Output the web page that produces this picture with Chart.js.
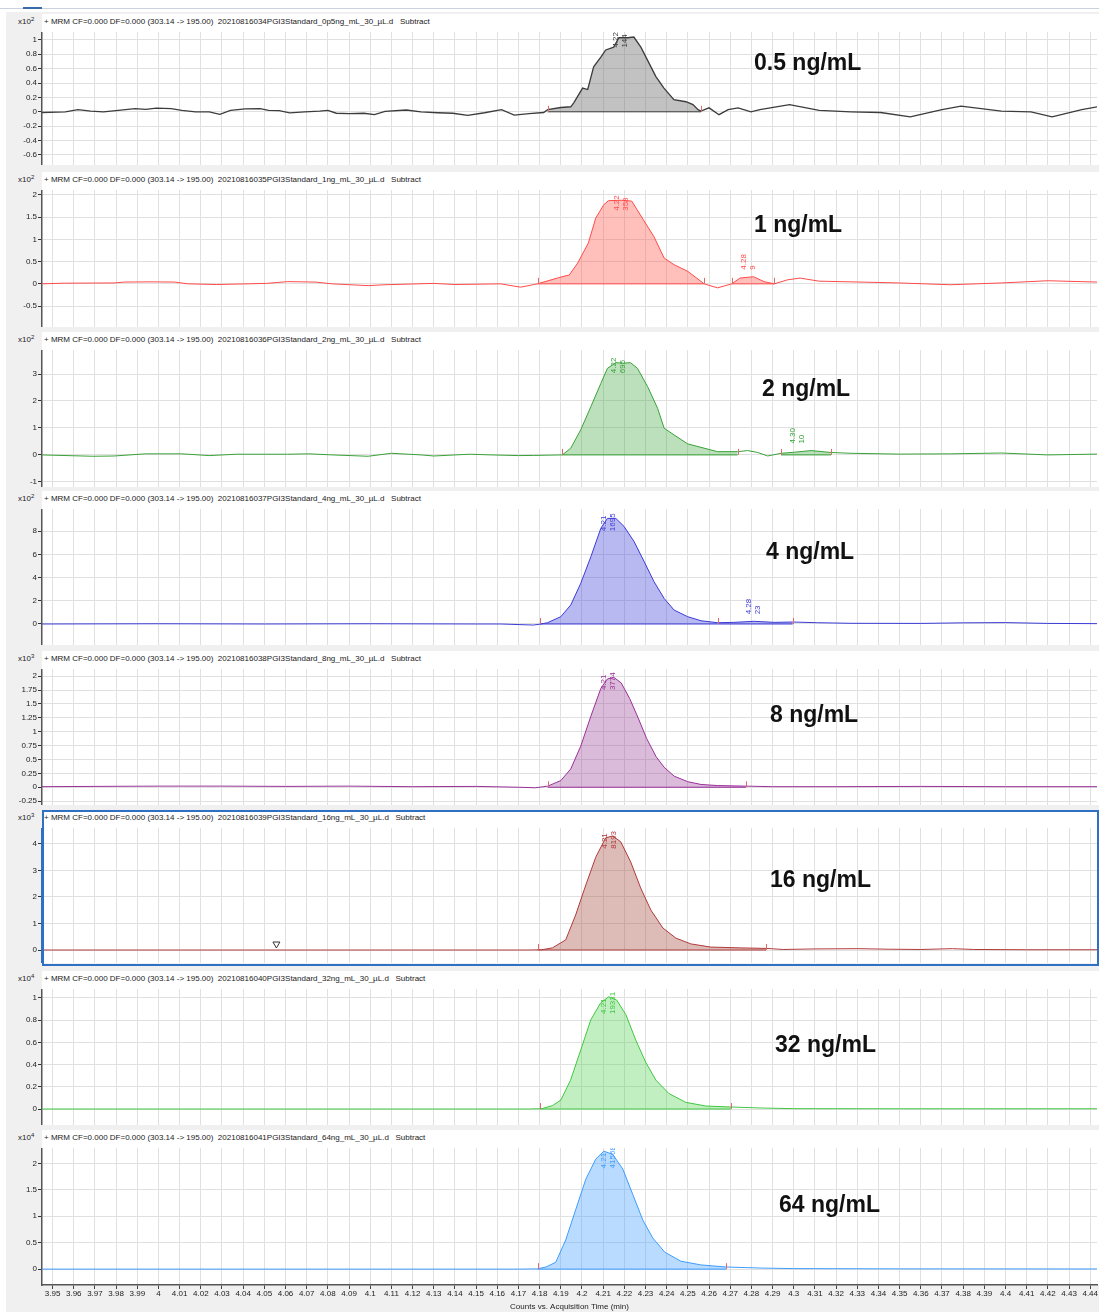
<!DOCTYPE html>
<html><head><meta charset="utf-8">
<script src="https://cdn.jsdelivr.net/npm/chart.js@4.4.1/dist/chart.umd.min.js"></script>
<style>
body{margin:0;background:#fff;}
#root{position:relative;width:1099px;height:1312px;overflow:hidden;background:#fff;font-family:"Liberation Sans",Arial,sans-serif;}
.bg{position:absolute;left:6px;top:12px;width:1093px;height:1300px;background:#f0f0f0;}
.topline{position:absolute;left:0;top:8px;width:1099px;height:1px;background:#c9d3e0;}
.toptab{position:absolute;left:23px;top:7px;width:19px;height:2px;background:#3a6aa8;}
.panelbg{position:absolute;left:42px;width:1057px;background:#fff;}
.hdr{position:absolute;left:44px;font-size:8px;color:#222;white-space:pre;line-height:10px;}
.mag{position:absolute;left:18px;font-size:8px;color:#222;line-height:10px;white-space:pre;}
.mag sup{font-size:6px;vertical-align:3px;line-height:0;}
.conc{position:absolute;font-weight:bold;font-size:23px;color:#111;line-height:26px;white-space:pre;z-index:3;}
.sel{position:absolute;border:2px solid #2f6fc4;box-sizing:border-box;pointer-events:none;z-index:4;}
canvas{position:absolute;left:0;z-index:1;}
</style>
</head><body><div id="root"><div class="bg"></div><div class="topline"></div><div class="toptab"></div></div>
<script>
// ---------------- DATA ----------------
const xTickLabels = ["3.95","3.96","3.97","3.98","3.99","4","4.01","4.02","4.03","4.04","4.05","4.06","4.07","4.08","4.09","4.1","4.11","4.12","4.13","4.14","4.15","4.16","4.17","4.18","4.19","4.2","4.21","4.22","4.23","4.24","4.25","4.26","4.27","4.28","4.29","4.3","4.31","4.32","4.33","4.34","4.35","4.36","4.37","4.38","4.39","4.4","4.41","4.42","4.43","4.44"];
const concLabels = ["0.5 ng/mL","1 ng/mL","2 ng/mL","4 ng/mL","8 ng/mL","16 ng/mL","32 ng/mL","64 ng/mL"];
const sampleFiles = ["20210816034PGI3Standard_0p5ng_mL_30_\u00b5L.d","20210816035PGI3Standard_1ng_mL_30_\u00b5L.d","20210816036PGI3Standard_2ng_mL_30_\u00b5L.d","20210816037PGI3Standard_4ng_mL_30_\u00b5L.d","20210816038PGI3Standard_8ng_mL_30_\u00b5L.d","20210816039PGI3Standard_16ng_mL_30_\u00b5L.d","20210816040PGI3Standard_32ng_mL_30_\u00b5L.d","20210816041PGI3Standard_64ng_mL_30_\u00b5L.d"];
const exponents = [2,2,2,2,3,3,4,4];
const yTicks05 = ["1","0.8","0.6","0.4","0.2","0","-0.2","-0.4","-0.6"];
const yTicks1  = ["2","1.5","1","0.5","0","-0.5"];
const yTicks2  = ["3","2","1","0","-1"];
const yTicks4  = ["8","6","4","2","0"];
const yTicks8  = ["2","1.75","1.5","1.25","1","0.75","0.5","0.25","0","-0.25"];
const yTicks16 = ["4","3","2","1","0"];
const yTicks32 = ["1","0.8","0.6","0.4","0.2","0"];
const yTicks64 = ["2","1.5","1","0.5","0"];

// traces: [time (min), counts in the panel's x10^n unit]
const trace05 = [[3.9445,-0.01],[3.956,0],[3.962,0.03],[3.968,0.01],[3.974,0],[3.981,0.02],[3.989,0.045],[3.994,0.035],[3.999,0.05],[4.006,0.045],[4.011,0.02],[4.0175,0],[4.024,0],[4.029,-0.035],[4.034,0.02],[4.041,0.04],[4.048,0.045],[4.052,0.02],[4.057,0.015],[4.062,-0.015],[4.069,0],[4.076,0.01],[4.080,0.02],[4.084,-0.02],[4.090,-0.025],[4.097,-0.02],[4.102,-0.04],[4.107,0.005],[4.117,0.025],[4.124,0],[4.132,-0.013],[4.139,-0.02],[4.146,-0.05],[4.154,-0.013],[4.162,0.03],[4.168,-0.045],[4.175,-0.025],[4.1819,-0.01],[4.1838,0.03],[4.19,0.06],[4.1947,0.07],[4.1961,0.125],[4.2003,0.33],[4.2027,0.31],[4.2055,0.625],[4.2089,0.76],[4.2112,0.86],[4.215,0.90],[4.2174,1.03],[4.2216,1.03],[4.2245,1.04],[4.2278,0.90],[4.2316,0.68],[4.2349,0.49],[4.2387,0.33],[4.2434,0.17],[4.2491,0.14],[4.2524,0.10],[4.2548,0.03],[4.2562,0.01],[4.26,0.055],[4.2647,-0.04],[4.269,0.03],[4.2737,0.055],[4.2798,0.0],[4.284,0.03],[4.298,0.1],[4.312,0.02],[4.327,0],[4.341,-0.01],[4.355,-0.07],[4.37,0.03],[4.379,0.08],[4.398,0.01],[4.412,0],[4.422,-0.07],[4.436,0.03],[4.4435,0.07]];
const trace1 = [[3.9445,0],[3.956,0.015],[3.979,0.02],[3.984,0.04],[3.996,0.045],[4.0075,0.04],[4.014,0],[4.0275,-0.015],[4.051,0.01],[4.061,0.05],[4.074,0.04],[4.082,0],[4.099,-0.04],[4.107,-0.02],[4.13,0.01],[4.14,-0.015],[4.1616,0],[4.171,-0.075],[4.179,0],[4.189,0.14],[4.194,0.2],[4.198,0.47],[4.203,0.92],[4.2065,1.48],[4.2103,1.78],[4.2125,1.87],[4.2185,1.88],[4.2235,1.86],[4.226,1.67],[4.229,1.44],[4.234,1.06],[4.2388,0.58],[4.2435,0.43],[4.25,0.28],[4.2577,0],[4.264,-0.09],[4.2707,0],[4.2746,0.13],[4.281,0.16],[4.286,0.05],[4.2908,0],[4.297,0.09],[4.303,0.13],[4.312,0.06],[4.327,0.045],[4.35,0.02],[4.374,-0.02],[4.398,0.02],[4.42,0.07],[4.4435,0.04]];
const trace2 = [[3.9445,0],[3.969,-0.05],[3.979,-0.04],[3.994,0.04],[4.011,0.04],[4.024,-0.025],[4.037,0.025],[4.061,0.025],[4.071,0.04],[4.082,0],[4.099,-0.05],[4.11,0.06],[4.124,0],[4.13,-0.04],[4.147,0.025],[4.157,0],[4.17,-0.025],[4.177,-0.02],[4.1907,0],[4.1947,0.25],[4.1994,0.93],[4.2042,1.79],[4.2089,2.65],[4.212,3.21],[4.216,3.42],[4.2197,3.40],[4.2229,3.42],[4.2262,3.21],[4.231,2.53],[4.2357,1.73],[4.2388,0.99],[4.2435,0.74],[4.2499,0.41],[4.2562,0.28],[4.264,0.12],[4.2735,0.12],[4.2782,0.16],[4.283,0.09],[4.2877,-0.04],[4.294,0.06],[4.3003,0.1],[4.3082,0.16],[4.3176,0.09],[4.327,0.06],[4.35,0.03],[4.374,0.04],[4.398,0.07],[4.42,0],[4.4435,0.03]];
const trace4 = [[3.9445,0],[4.0,0.02],[4.05,0],[4.1,0.02],[4.15,0],[4.1616,0],[4.177,-0.09],[4.18,-0.02],[4.1837,0.11],[4.19,0.63],[4.1947,1.64],[4.1994,3.5],[4.2042,5.8],[4.2089,8.25],[4.212,9.1],[4.216,9.1],[4.2199,8.4],[4.2246,7.1],[4.2293,5.4],[4.234,3.65],[4.2388,2.2],[4.2435,1.2],[4.2499,0.63],[4.2562,0.28],[4.264,0.11],[4.2717,0.14],[4.2813,0.23],[4.2908,0.14],[4.2995,0.17],[4.3113,0.11],[4.327,0.06],[4.36,0.05],[4.38,0.1],[4.40,0.12],[4.42,0.05],[4.4435,0.03]];
const trace8 = [[3.9445,0.01],[3.97,0.015],[4.0,0.02],[4.03,0.02],[4.06,0.015],[4.09,0.02],[4.12,0.01],[4.15,0.015],[4.17,0.0],[4.178,-0.01],[4.1838,0.02],[4.19,0.12],[4.1947,0.33],[4.1994,0.74],[4.2042,1.28],[4.2089,1.78],[4.212,1.95],[4.215,1.98],[4.2185,1.88],[4.2225,1.6],[4.2265,1.25],[4.2305,0.88],[4.235,0.55],[4.2388,0.36],[4.2435,0.2],[4.2499,0.1],[4.2562,0.05],[4.264,0.03],[4.2774,0.02],[4.29,0.01],[4.32,0.01],[4.36,0.015],[4.40,0.01],[4.4435,0.01]];
const trace16 = [[3.9445,0],[4.05,0],[4.1,0],[4.15,0],[4.175,0],[4.181,0.01],[4.186,0.08],[4.1923,0.38],[4.197,1.32],[4.2018,2.45],[4.2065,3.5],[4.2112,4.23],[4.2145,4.3],[4.2183,4.08],[4.223,3.32],[4.2277,2.34],[4.2325,1.51],[4.2382,0.83],[4.2443,0.45],[4.2514,0.23],[4.2608,0.11],[4.275,0.08],[4.2869,0.06],[4.295,0.02],[4.31,0.04],[4.33,0.05],[4.345,0.03],[4.36,0.02],[4.375,0.05],[4.385,0.02],[4.41,0.01],[4.4435,0.01]];
const trace32 = [[3.9445,0],[4.1,0],[4.175,0],[4.181,0.003],[4.186,0.03],[4.19,0.08],[4.1946,0.26],[4.1994,0.53],[4.2041,0.8],[4.2088,0.955],[4.2126,1.01],[4.2164,0.98],[4.2207,0.85],[4.2254,0.62],[4.2301,0.42],[4.2349,0.26],[4.241,0.14],[4.249,0.06],[4.2585,0.027],[4.2703,0.018],[4.2845,0.009],[4.3,0.003],[4.35,0.002],[4.4435,0.002]];
const trace64 = [[3.9445,0],[4.1,0],[4.17,0],[4.179,0.005],[4.183,0.04],[4.1876,0.13],[4.1923,0.55],[4.197,1.12],[4.2018,1.7],[4.2065,2.08],[4.2103,2.23],[4.2145,2.17],[4.2193,1.89],[4.224,1.41],[4.2287,0.93],[4.2334,0.59],[4.2391,0.32],[4.2467,0.15],[4.2561,0.08],[4.268,0.04],[4.2845,0.02],[4.3,0.01],[4.35,0.005],[4.4435,0.003]];

// integration windows [start, end]
const integ05 = [[4.1838,4.2562]];
const integ1  = [[4.179,4.2577],[4.2707,4.2908]];
const integ2  = [[4.1907,4.2735],[4.294,4.3176]];
const integ4  = [[4.18,4.264],[4.264,4.2995]];
const integ8  = [[4.1838,4.2774]];
const integ16 = [[4.179,4.2869]];
const integ32 = [[4.18,4.2703]];
const integ64 = [[4.179,4.268]];

// peak labels [retention time, RT text, area text]
const labels05 = [[4.2185,"4.22","144"]];
const labels1  = [[4.219,"4.22","358"],[4.2786,"4.28","9"]];
const labels2  = [[4.2175,"4.22","695"],[4.3018,"4.30","10"]];
const labels4  = [[4.2125,"4.21","1695"],[4.2812,"4.28","23"]];
const labels8  = [[4.2125,"4.21","3774"]];
const labels16 = [[4.213,"4.21","8193"]];
const labels32 = [[4.2125,"4.21","19331"]];
const labels64 = [[4.2125,"4.21","41568"]];
const markers16 = [[4.0557,0]];

// ---------------- LAYOUT / STYLE ----------------
const plotTop    = [32,190,350,509,669,828,989,1148];
const plotBottom = [165,327,487,645,805,963,1125,1285];
const yRange = [[-0.74,1.11],[-0.97,2.11],[-1.19,3.89],[-1.81,9.91],[-0.32,2.13],[-0.49,4.6],[-0.144,1.08],[-0.30,2.29]];
const concPos = [[754,62],[754,224],[762,388],[766,551],[770,714],[770,879],[775,1044],[779,1204]];
const lineColors = ['#3c3c3c','#ff4a4a','#38a238','#3b3bd6','#9a2f9a','#b03a3a','#3fc83f','#3d9cff'];
const fillColors = ['rgba(120,120,120,0.45)','rgba(255,90,80,0.38)','rgba(60,165,60,0.35)','rgba(70,70,220,0.38)','rgba(150,60,150,0.35)','rgba(170,85,75,0.4)','rgba(80,210,80,0.35)','rgba(70,160,255,0.38)'];

const traces = [trace05,trace1,trace2,trace4,trace8,trace16,trace32,trace64];
const integs = [integ05,integ1,integ2,integ4,integ8,integ16,integ32,integ64];
const peakLabels = [labels05,labels1,labels2,labels4,labels8,labels16,labels32,labels64];
const yTickSets = [yTicks05,yTicks1,yTicks2,yTicks4,yTicks8,yTicks16,yTicks32,yTicks64];
const markerSets = [[],[],[],[],[],markers16,[],[]];
const XMIN = 3.945, XMAX = 4.4432;
const FONT = '"Liberation Sans", Arial, sans-serif';

const root = document.getElementById('root');
function el(cls, css, html){const d=document.createElement('div');d.className=cls;Object.assign(d.style,css);if(html!==undefined)d.innerHTML=html;root.appendChild(d);return d;}

const xTickVals = xTickLabels.map(parseFloat);

for (let i=0;i<8;i++){
  const top=plotTop[i], bot=plotBottom[i], last=(i===7);
  el('panelbg',{top:(top-18)+'px',height:(bot-top+18)+'px'});
  el('mag',{top:(top-15)+'px'},'x10<sup>'+exponents[i]+'</sup>');
  const h=el('hdr',{top:(top-15)+'px'});
  h.textContent='+ MRM CF=0.000 DF=0.000 (303.14 -> 195.00)  '+sampleFiles[i]+'   Subtract';
  const c=el('conc',{left:concPos[i][0]+'px',top:(concPos[i][1]-13)+'px'});
  c.textContent=concLabels[i];

  const cv=document.createElement('canvas');
  const ch=(bot-top)+(last?27:0);
  cv.width=1099; cv.height=ch; cv.style.top=top+'px'; cv.style.width='1099px'; cv.style.height=ch+'px';
  root.appendChild(cv);

  const tr=traces[i];
  const datasets=[{data:tr.map(p=>({x:p[0],y:p[1]})),borderColor:lineColors[i],borderWidth:i===0?1.3:1,pointRadius:0,fill:false,tension:0,order:0}];
  integs[i].forEach(([s,e])=>{
    datasets.push({data:tr.filter(p=>p[0]>=s-1e-9&&p[0]<=e+1e-9).map(p=>({x:p[0],y:p[1]})),borderWidth:0,borderColor:'rgba(0,0,0,0)',backgroundColor:fillColors[i],fill:'origin',pointRadius:0,tension:0,order:2});
    datasets.push({data:[{x:s,y:0},{x:e,y:0}],borderColor:lineColors[i],borderWidth:1,pointRadius:0,fill:false,order:1});
  });

  const yLabs=yTickSets[i], yVals=yLabs.map(parseFloat);
  const labs=peakLabels[i], ints=integs[i], marks=markerSets[i], col=lineColors[i];
  const overlay={id:'overlay',afterDatasetsDraw(chart){
    const ctx=chart.ctx, xs=chart.scales.x, ys=chart.scales.y;
    ctx.save();
    ctx.strokeStyle='#e06a6a'; ctx.lineWidth=1;
    ints.forEach(w=>w.forEach(t=>{const px=Math.round(xs.getPixelForValue(t))+0.5,py=ys.getPixelForValue(0);ctx.beginPath();ctx.moveTo(px,py);ctx.lineTo(px,py-6);ctx.stroke();}));
    ctx.fillStyle=col; ctx.font='8px '+FONT; ctx.textBaseline='middle'; ctx.textAlign='left';
    labs.forEach((lab,k)=>{
      const [rt,l1,l2]=lab; let best=null;
      tr.forEach(p=>{if(Math.abs(p[0]-rt)<=0.008&&(!best||p[1]>best[1]))best=p;});
      if(!best)return;
      const ax=xs.getPixelForValue(rt), ay=ys.getPixelForValue(best[1]);
      const w=Math.max(ctx.measureText(l1).width,ctx.measureText(l2).width);
      const bottom=k===0?ay-5+w:ay-7;
      [[l1,ax-5],[l2,ax+4]].forEach(([s,cx])=>{ctx.save();ctx.translate(cx,bottom);ctx.rotate(-Math.PI/2);ctx.fillText(s,0,0);ctx.restore();});
    });
    ctx.strokeStyle='#333'; ctx.lineWidth=1;
    marks.forEach(([t,v])=>{const px=xs.getPixelForValue(t),py=ys.getPixelForValue(v)-2;ctx.beginPath();ctx.moveTo(px-3.5,py-6);ctx.lineTo(px+3.5,py-6);ctx.lineTo(px,py);ctx.closePath();ctx.stroke();});
    ctx.restore();
  }};

  new Chart(cv,{type:'line',data:{datasets},plugins:[overlay],options:{
    responsive:false,animation:false,devicePixelRatio:1,
    layout:{padding:{left:0,right:2,top:0,bottom:0}},
    plugins:{legend:{display:false},tooltip:{enabled:false}},
    scales:{
      x:{type:'linear',min:XMIN,max:XMAX,
        afterBuildTicks:s=>{s.ticks=xTickVals.map(v=>({value:v}));},
        afterFit:s=>{s.height=last?27:0;s.paddingLeft=0;s.paddingRight=0;},
        ticks:{display:last,autoSkip:false,maxRotation:0,minRotation:0,padding:0,color:'#222',font:{family:FONT,size:8},callback:(v,idx)=>xTickLabels[idx]},
        grid:{color:'#e0e0e0',lineWidth:1,drawTicks:last,tickLength:4,tickColor:'#444'},
        border:{display:last,color:'#555',width:1.5},
        title:{display:last,text:'Counts vs. Acquisition Time (min)',color:'#222',font:{family:FONT,size:8},padding:{top:0,bottom:0}}
      },
      y:{type:'linear',min:yRange[i][0],max:yRange[i][1],
        afterBuildTicks:s=>{s.ticks=yVals.map(v=>({value:v}));},
        afterFit:s=>{s.width=42;s.paddingTop=0;s.paddingBottom=0;},
        ticks:{autoSkip:false,padding:1,color:'#222',font:{family:FONT,size:8},callback:(v,idx)=>yLabs[idx]},
        grid:{color:'#e0e0e0',lineWidth:1,tickLength:4,tickColor:'#333'},
        border:{color:i===5?'#2f6fc4':'#555',width:1.5}
      }
    }
  }});
}
el('sel',{left:'42px',top:'810px',width:'1057px',height:'156px'});
</script></body></html>
